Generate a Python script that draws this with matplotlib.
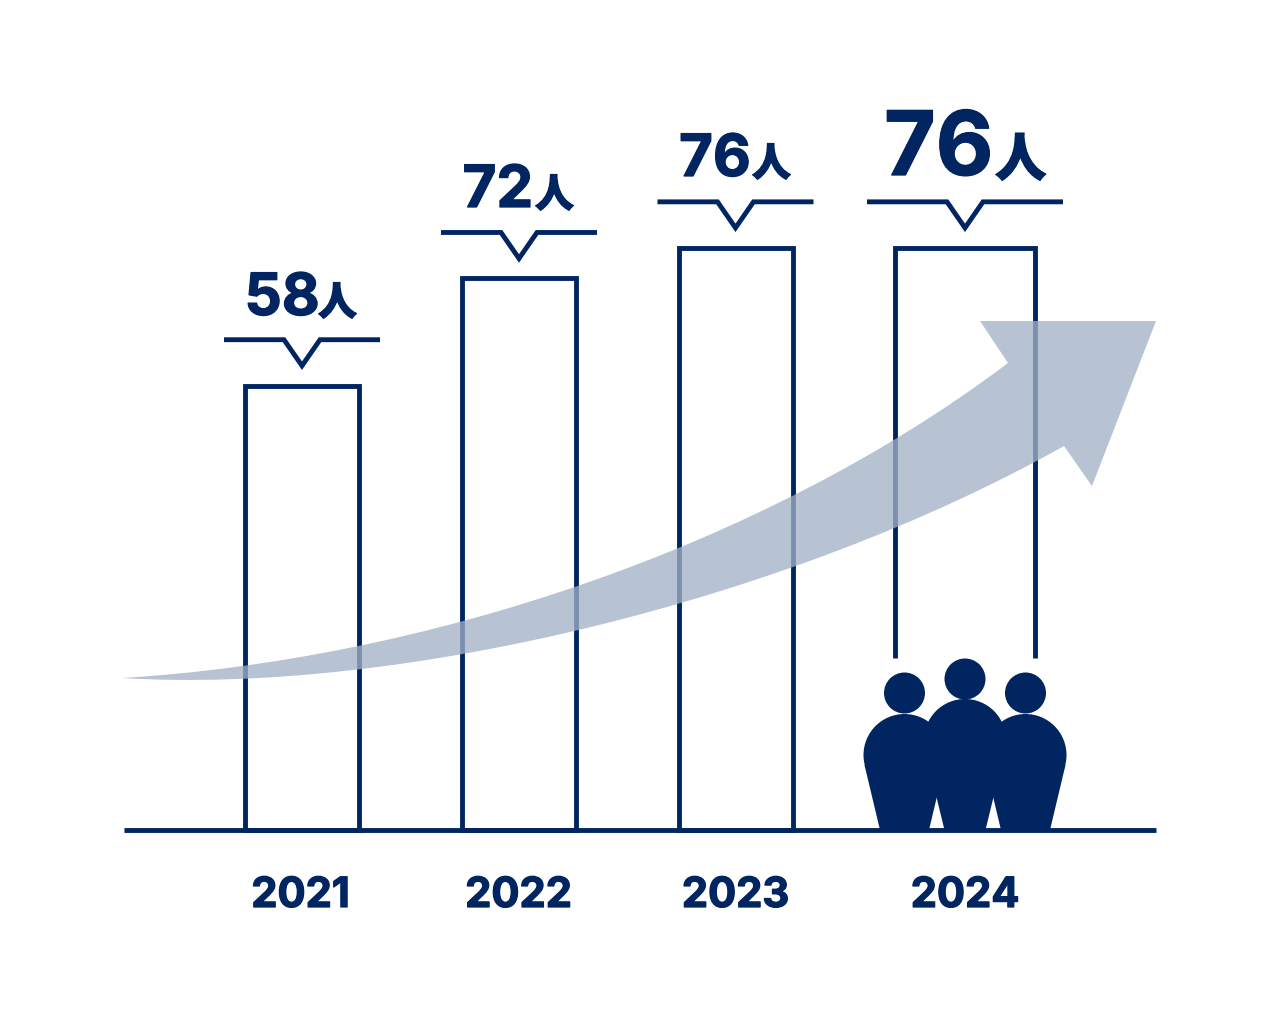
import matplotlib
matplotlib.use('Agg')
import matplotlib.pyplot as plt
import matplotlib.patheffects as pe
from matplotlib.patches import Circle, PathPatch, Polygon
from matplotlib.path import Path

years = ['2021', '2022', '2023', '2024']
counts = [58, 72, 76, 76]
count_labels = ['58', '72', '76', '76']
unit = '人'

navy = '#002561'
arrow_col = (162 / 255, 177 / 255, 198 / 255)

# pixel layout
base_px = 830
px_per_person = 7.66
centers = [302, 519, 735.5, 965]
year_x = [300.5, 518.5, 735.5, 965]
widths = [114, 114, 114, 140]
label_x = [244.5, 462.5, 679, 884]
unit_x = [318, 535, 752, 995]
label_y = [315, 207, 176, 175]
label_size = [42, 42, 42, 64]
unit_size = [28, 28, 28, 37]
unit_y = [315, 207, 176, 176]
bracket_half = [78, 78, 78, 98]
cut_px = 658

fig = plt.figure(figsize=(12.8, 10.17), dpi=100)

# bars live in an axes scaled in persons
ax = fig.add_axes([0, 0, 1, 1])
ax.set_xlim(0, 1280)
ax.set_ylim(-(1017 - base_px) / px_per_person, base_px / px_per_person)
ax.axis('off')

lw = 3.5
ax.bar(centers[:3], counts[:3], width=widths[:3], fill=False, edgecolor=navy, linewidth=lw, zorder=1)
cut = (base_px - cut_px) / px_per_person
x0 = centers[3] - widths[3] / 2
x1 = centers[3] + widths[3] / 2
ax.plot([x0, x0, x1, x1], [cut, counts[3], counts[3], cut], color=navy, lw=lw,
        solid_capstyle='butt', solid_joinstyle='miter', zorder=1)

# everything else in pixel coords
deco = fig.add_axes([0, 0, 1, 1])
deco.set_xlim(0, 1280)
deco.set_ylim(1017, 0)
deco.axis('off')
deco.patch.set_alpha(0)

verts = [(122, 678), (420, 660), (760, 550), (1008, 363), (980, 321), (1156, 321), (1092, 486),
         (1064, 446), (790, 600), (400, 695), (122, 678), (122, 678)]
codes = [Path.MOVETO, Path.CURVE4, Path.CURVE4, Path.CURVE4, Path.LINETO, Path.LINETO, Path.LINETO,
         Path.LINETO, Path.CURVE4, Path.CURVE4, Path.CURVE4, Path.CLOSEPOLY]
deco.add_patch(PathPatch(Path(verts, codes), facecolor=arrow_col, edgecolor='none', alpha=0.77, zorder=2))

deco.plot([124, 1156], [base_px, base_px], color=navy, lw=lw, solid_capstyle='butt', zorder=3)

# Inter bold comes out a bit lighter than the original, thicken slightly
heavy = [pe.withStroke(linewidth=0.9, foreground=navy)]

for i, c in enumerate(centers):
    top = base_px - counts[i] * px_per_person
    y = top - 46
    h = bracket_half[i]
    deco.plot([c - h, c - 18, c, c + 18, c + h], [y, y, y + 26, y, y], color=navy, lw=lw,
              solid_capstyle='butt', solid_joinstyle='miter', zorder=3)
    deco.text(label_x[i], label_y[i], count_labels[i], family='Inter', weight='bold',
              fontsize=label_size[i], color=navy, ha='left', va='baseline', path_effects=heavy)
    deco.text(unit_x[i], unit_y[i], unit, family=['Noto Sans CJK JP', 'DejaVu Sans'], weight='black',
              fontsize=unit_size[i], color=navy, ha='left', va='baseline', path_effects=heavy)
    deco.text(year_x[i], 907, years[i], family='Inter', weight='bold', fontsize=30,
              color=navy, ha='center', va='baseline', path_effects=heavy)

# people
for cx, head_y, body_y, low, half in [(904.5, 693, 755, 765, 24.5), (965, 679, 740, 750, 20.5),
                                      (1025.5, 693, 755, 765, 24.5)]:
    deco.add_patch(Circle((cx, head_y), 20.5, fc=navy, ec='none', zorder=4))
    deco.add_patch(Circle((cx, body_y), 41, fc=navy, ec='none', zorder=4))
    deco.add_patch(Polygon([(cx - 40, low), (cx - half, 830), (cx + half, 830), (cx + 40, low)],
                           fc=navy, ec='none', zorder=4))

fig.savefig('out.png', dpi=100)
